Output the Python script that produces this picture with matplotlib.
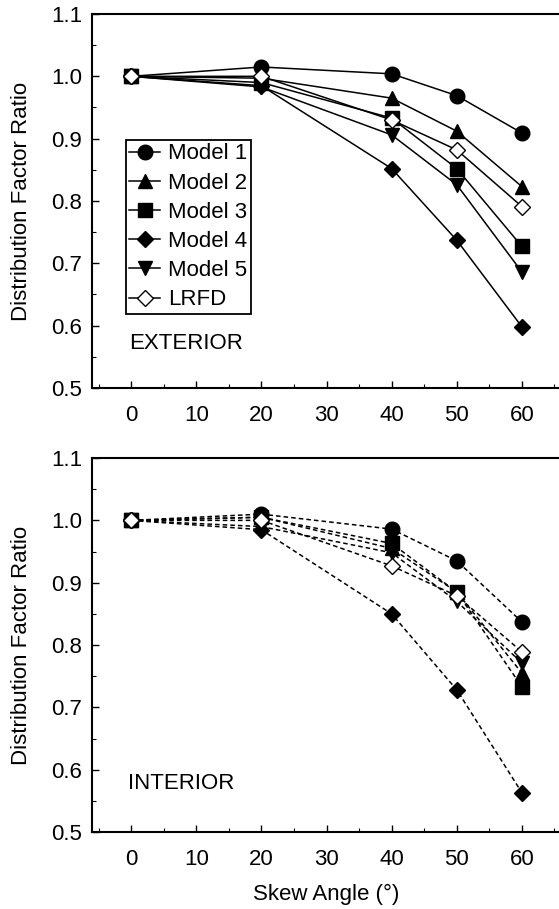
import matplotlib
matplotlib.use("Agg")
import matplotlib.pyplot as plt
from matplotlib.ticker import MultipleLocator

plt.rcParams['font.family'] = ['Liberation Sans', 'DejaVu Sans']

skew = [0, 20, 40, 50, 60]
labels = ["Model 1", "Model 2", "Model 3", "Model 4", "Model 5", "LRFD"]
markers = ["o", "^", "s", "D", "v", "D"]

ext_model1 = [1.0, 1.015, 1.004, 0.969, 0.909]
ext_model2 = [1.0, 0.997, 0.965, 0.912, 0.823]
ext_model3 = [1.0, 0.990, 0.933, 0.852, 0.727]
ext_model4 = [1.0, 0.985, 0.852, 0.737, 0.598]
ext_model5 = [1.0, 0.983, 0.906, 0.826, 0.686]
ext_lrfd = [1.0, 1.0, 0.930, 0.882, 0.791]

int_model1 = [1.0, 1.010, 0.986, 0.935, 0.837]
int_model2 = [1.0, 1.005, 0.955, 0.885, 0.755]
int_model3 = [1.0, 1.005, 0.963, 0.885, 0.733]
int_model4 = [1.0, 0.985, 0.850, 0.728, 0.563]
int_model5 = [1.0, 0.990, 0.948, 0.870, 0.771]
int_lrfd = [1.0, 1.0, 0.927, 0.879, 0.789]

ext = [ext_model1, ext_model2, ext_model3, ext_model4, ext_model5, ext_lrfd]
inter = [int_model1, int_model2, int_model3, int_model4, int_model5, int_lrfd]

FS = 16

fig = plt.figure(figsize=(5.59, 9.09), dpi=100)
ax1 = fig.add_axes([0.1646, 0.5732, 0.839, 0.4114])
ax2 = fig.add_axes([0.1646, 0.0847, 0.839, 0.4114])

def style(ax):
    ax.set_xlim(-6, 66)
    ax.set_ylim(0.5, 1.1)
    ax.set_xticks([0, 10, 20, 30, 40, 50, 60])
    ax.xaxis.set_minor_locator(MultipleLocator(5))
    ax.yaxis.set_minor_locator(MultipleLocator(0.05))
    ax.set_yticks([0.5, 0.6, 0.7, 0.8, 0.9, 1.0, 1.1])
    ax.set_yticklabels(["0.5", "0.6", "0.7", "0.8", "0.9", "1.0", "1.1"])
    ax.tick_params(axis='x', which='major', direction='in', length=5, width=1, labelsize=FS, pad=12)
    ax.tick_params(axis='y', which='major', direction='in', length=5, width=1, labelsize=FS, pad=7)
    ax.tick_params(axis='both', which='minor', direction='in', length=3, width=0.8)
    for s in ax.spines.values():
        s.set_linewidth(1.5)
    ax.set_ylabel("Distribution Factor Ratio", fontsize=FS, labelpad=14)

for i, (ys, lab, m) in enumerate(zip(ext, labels, markers)):
    filled = lab != "LRFD"
    ms = 10.5 if m in ("o", "s", "^", "v") else 8.5
    ax1.plot(skew, ys, color='black', linewidth=1.1, marker=m, markersize=ms,
             markerfacecolor='black' if filled else 'white',
             markeredgecolor='black', markeredgewidth=1.0, label=lab, zorder=3 + i)

for i, (ys, lab, m) in enumerate(zip(inter, labels, markers)):
    filled = lab != "LRFD"
    ms = 10.5 if m in ("o", "s", "^", "v") else 8.5
    ax2.plot(skew, ys, color='black', linewidth=1.1, linestyle=(0, (3, 2)), marker=m, markersize=ms,
             markerfacecolor='black' if filled else 'white',
             markeredgecolor='black', markeredgewidth=1.0, label=lab, zorder=3 + i)

style(ax1)
style(ax2)
ax2.set_xlabel("Skew Angle (°)", fontsize=FS, labelpad=10)

leg = ax1.legend(loc='upper left', bbox_to_anchor=(0.0725, 0.663), borderaxespad=0,
                 fontsize=FS, handlelength=1.4, handletextpad=0.35, labelspacing=0.37,
                 borderpad=0.15, fancybox=False, framealpha=1, edgecolor='black')
leg.get_frame().set_linewidth(1.3)

ax1.text(0.08, 0.12, "EXTERIOR", transform=ax1.transAxes, fontsize=FS, va='center')
ax2.text(0.077, 0.13, "INTERIOR", transform=ax2.transAxes, fontsize=FS, va='center')

fig.savefig("out.png", dpi=100)
